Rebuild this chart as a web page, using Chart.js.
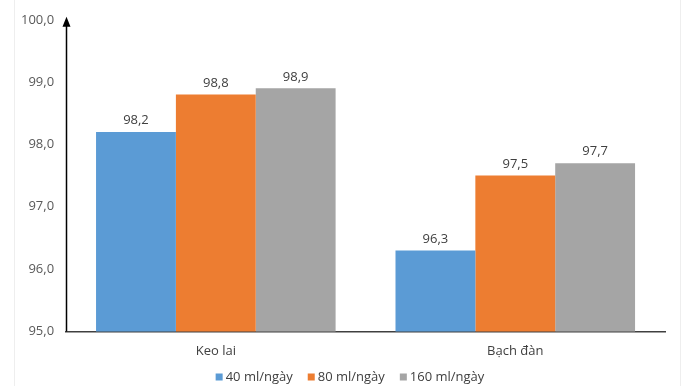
<!DOCTYPE html>
<html lang="vi">
<head>
  <meta charset="UTF-8">
  <title>Keo lai / Bạch đàn</title>
  <script src="https://cdn.jsdelivr.net/npm/chart.js"></script>
  <style>
    body {
      margin: 0;
      background: #fff;
    }

    #wrap {
      position: relative;
      width: 700px;
      height: 386px;
    }

    #wrap::before, #wrap::after {
      content: "";
      position: absolute;
      top: 0;
      bottom: 0;
      width: 1px;
      background: #eeeeee;
    }
    #wrap::before { left: 14px; }
    #wrap::after { left: 680px; }
  </style>
</head>
<body>
  <div id="wrap">
    <canvas id="barChart" width="700" height="386"></canvas>
  </div>

  <script>
    const categories = ['Keo lai', 'Bạch đàn'];
    const seriesNames = ['40 ml/ngày', '80 ml/ngày', '160 ml/ngày'];
    const values40 = [98.2, 96.3];
    const values80 = [98.8, 97.5];
    const values160 = [98.9, 97.7];
    const yTicks = [95, 96, 97, 98, 99, 100];

    const colors = ['#5b9bd5', '#ed7d31', '#a5a5a5'];
    const font = '13px "Open Sans", sans-serif';
    const fmt = v => v.toFixed(1).replace('.', ',');

    // value labels above each bar
    const barLabels = {
      id: 'barLabels',
      afterDatasetsDraw(chart) {
        const ctx = chart.ctx;
        ctx.save();
        ctx.font = font;
        ctx.fillStyle = '#404040';
        ctx.textAlign = 'center';
        ctx.textBaseline = 'bottom';
        chart.data.datasets.forEach((ds, i) => {
          chart.getDatasetMeta(i).data.forEach((bar, j) => {
            ctx.fillText(fmt(ds.data[j]), bar.x, bar.y - 5);
          });
        });
        ctx.restore();
      }
    };

    // y axis line with arrow head
    const axisArrow = {
      id: 'axisArrow',
      afterDraw(chart) {
        const ctx = chart.ctx;
        const a = chart.chartArea;
        const x = Math.round(a.left) + 0.5;
        ctx.save();
        ctx.strokeStyle = '#000';
        ctx.lineWidth = 1.5;
        ctx.beginPath();
        ctx.moveTo(x, a.bottom);
        ctx.lineTo(x, a.top + 4);
        ctx.stroke();
        ctx.fillStyle = '#000';
        ctx.beginPath();
        ctx.moveTo(x, a.top - 3);
        ctx.lineTo(x - 4, a.top + 7);
        ctx.lineTo(x + 4, a.top + 7);
        ctx.closePath();
        ctx.fill();
        ctx.restore();
      }
    };

    // bottom legend, drawn by hand for tighter spacing
    const bottomLegend = {
      id: 'bottomLegend',
      afterDraw(chart) {
        const ctx = chart.ctx;
        const box = 7, gap = 3, spacing = 15, y = 377;
        ctx.save();
        ctx.font = font;
        ctx.textBaseline = 'middle';
        const items = chart.data.datasets.map(ds => ({
          text: ds.label, color: ds.backgroundColor, w: ctx.measureText(ds.label).width
        }));
        const total = items.reduce((s, it) => s + box + gap + it.w, 0) + spacing * (items.length - 1);
        let x = chart.width / 2 - total / 2;
        items.forEach(it => {
          ctx.fillStyle = it.color;
          ctx.fillRect(x, y - box / 2, box, box);
          ctx.fillStyle = '#404040';
          ctx.fillText(it.text, x + box + gap, y);
          x += box + gap + it.w + spacing;
        });
        ctx.restore();
      }
    };

    new Chart(document.getElementById('barChart'), {
      type: 'bar',
      data: {
        labels: categories,
        datasets: [
          { label: seriesNames[0], data: values40, backgroundColor: colors[0] },
          { label: seriesNames[1], data: values80, backgroundColor: colors[1] },
          { label: seriesNames[2], data: values160, backgroundColor: colors[2] }
        ]
      },
      options: {
        responsive: false,
        animation: false,
        layout: { padding: { left: 9, right: 35, top: 17, bottom: 15 } },
        categoryPercentage: 0.8,
        barPercentage: 1.0,
        plugins: {
          legend: { display: false },
          tooltip: { enabled: false }
        },
        scales: {
          x: {
            grid: { display: false, drawTicks: false },
            border: { color: '#404040', width: 1.5 },
            ticks: {
              padding: 12,
              color: '#404040',
              font: { size: 13, family: '"Open Sans", sans-serif' }
            }
          },
          y: {
            min: 95,
            max: 100,
            afterBuildTicks: axis => { axis.ticks = yTicks.map(v => ({ value: v })); },
            grid: { display: false, drawTicks: false },
            border: { display: false },
            ticks: {
              padding: 12,
              color: '#595959',
              font: { size: 13, family: '"Open Sans", sans-serif' },
              callback: v => fmt(v)
            }
          }
        }
      },
      plugins: [barLabels, axisArrow, bottomLegend]
    });
  </script>
</body>
</html>
